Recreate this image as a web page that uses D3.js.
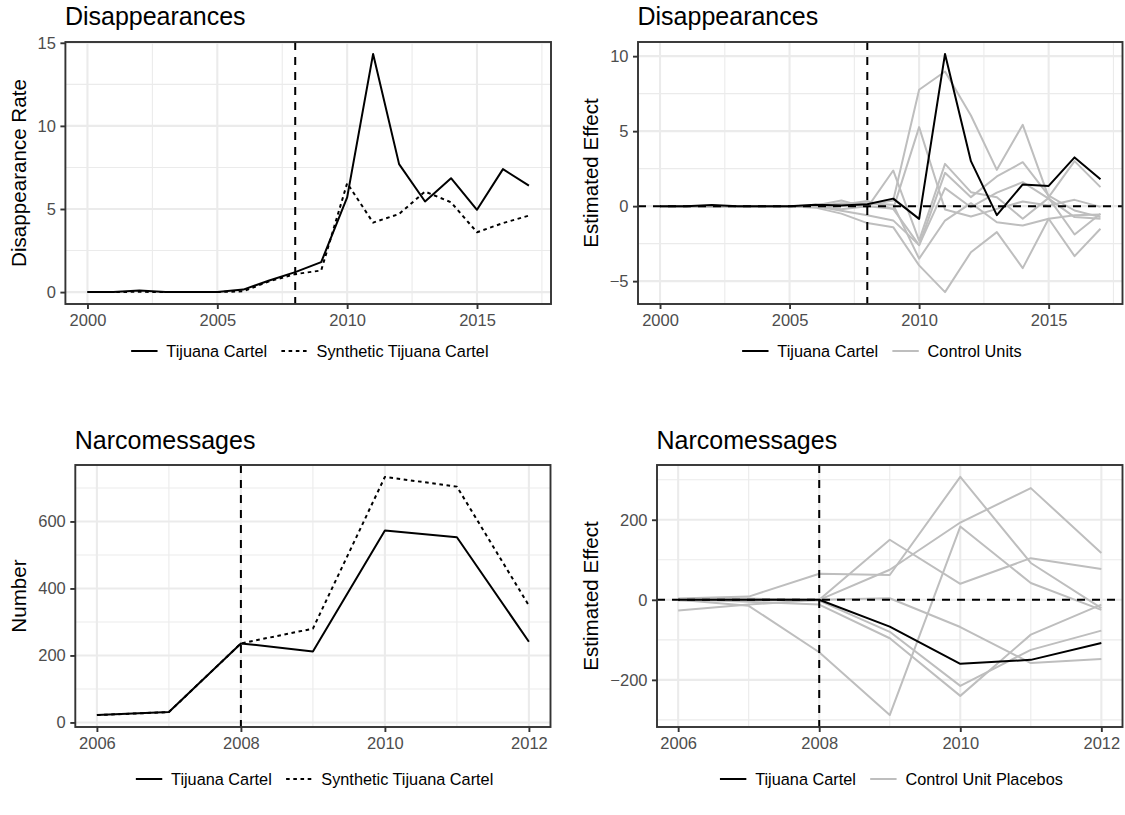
<!DOCTYPE html>
<html>
<head>
<meta charset="utf-8">
<script src="https://cdn.jsdelivr.net/npm/d3@7"></script>
<style>
  body { margin: 0; background: #fff; }
  svg { display: block; font-family: "Liberation Sans", Arial, Helvetica, sans-serif; }
</style>
</head>
<body>
<svg id="chart" width="1125" height="815"></svg>
<script>
// ---- Disappearances (yearly, 2000-2017) ----
const disYears = [2000, 2001, 2002, 2003, 2004, 2005, 2006, 2007, 2008, 2009, 2010, 2011, 2012, 2013, 2014, 2015, 2016, 2017];
const disTijuana = [0, 0, 0.1, 0, 0, 0, 0.15, 0.7, 1.2, 1.8, 5.7, 14.33, 7.7, 5.45, 6.85, 4.95, 7.4, 6.4];
const disSynthetic = [0, 0, 0.02, 0, 0, 0, 0.05, 0.65, 1.08, 1.3, 6.55, 4.18, 4.7, 6.05, 5.4, 3.6, 4.15, 4.6];
const disEffect = [0, 0, 0.08, 0, 0, 0, 0.1, 0.05, 0.12, 0.5, -0.85, 10.15, 3.0, -0.6, 1.45, 1.35, 3.25, 1.8];
const disControl1 = [0, 0, 0, 0, 0, 0, 0, 0.2, 0.1, 0.38, 7.76, 8.98, 6.04, 2.42, 5.42, 0.6, 3.0, 1.27];
const disControl2 = [0, 0, 0, 0, 0, 0, 0, 0.1, 0.35, -0.2, 5.27, -0.22, -0.69, -0.18, 0.31, 0.05, 0.42, -0.05];
const disControl3 = [0, 0, 0, 0, 0, 0, 0.05, 0.38, -0.1, 2.38, -2.3, 2.82, 0.93, 0.6, -0.84, 0.55, -1.89, -0.51];
const disControl4 = [0, 0, 0, 0, 0, 0, 0, -0.2, 0, -0.18, -2.6, 2.22, 0.6, 1.98, 2.93, 0.7, -0.29, -0.73];
const disControl5 = [0, 0, 0, 0, 0, 0, 0, -0.3, -0.6, -0.95, -2.6, 1.2, -0.07, 0.9, 1.6, 0.5, -0.73, -0.84];
const disControl6 = [0, 0, 0, 0, 0, 0, -0.1, -0.5, -1.13, -1.4, -3.95, -5.73, -3.07, -1.73, -4.13, -0.84, -3.33, -1.51];
const disControl7 = [0, 0, 0, 0, 0, 0, 0, 0.1, 0.2, 0.1, -3.5, -0.96, 0.2, -1.07, -1.29, -0.84, -0.6, -0.56];
const disXTicks = [2000, 2005, 2010, 2015];
const disXMinor = [2002.5, 2007.5, 2012.5, 2017.5];
const disRateTicks = [0, 5, 10, 15];
const disRateMinor = [2.5, 7.5, 12.5];
const disEffectTicks = [-5, 0, 5, 10];
const disEffectMinor = [-2.5, 2.5, 7.5];

// ---- Narcomessages (yearly, 2006-2012) ----
const narYears = [2006, 2007, 2008, 2009, 2010, 2011, 2012];
const narTijuana = [22, 31, 236, 212, 573, 553, 241];
const narSynthetic = [22, 31, 236, 280, 733, 704, 349];
const narEffect = [0, 0, 0, -67, -160, -150, -108];
const narPlacebo1 = [3, 8, 65, 62, 307, 92, -21];
const narPlacebo2 = [0, 2, 0, 75, 193, 279, 117];
const narPlacebo3 = [-2, 0, 0, 150, 40, 104, 77];
const narPlacebo4 = [0, -15, -131, -288, 183, 42, -25];
const narPlacebo5 = [-27, -12, 0, 4, -68, -158, -148];
const narPlacebo6 = [2, -5, -12, -96, -240, -87, -12];
const narPlacebo7 = [0, 3, -2, -80, -215, -125, -77];
const narXTicks = [2006, 2008, 2010, 2012];
const narXMinor = [2007, 2009, 2011];
const narNumberTicks = [0, 200, 400, 600];
const narNumberMinor = [100, 300, 500, 700];
const narEffectTicks = [-200, 0, 200];
const narEffectMinor = [-300, -100, 100, 300];

const treatmentYear = 2008;

// ---- styling ----
const TITLE_SIZE = 25, AXIS_TITLE_SIZE = 20.6, TICK_SIZE = 16.5, LEGEND_SIZE = 16.3;
const GRID = "#EBEBEB", BORDER = "#333333", TICK_TEXT = "#4D4D4D", GREY = "#BEBEBE";
const DASH_LONG = "8,7", DASH_DOT = "3.6,3.6";

const svg = d3.select("#chart");
const fmt = v => (v < 0 ? "\u2212" + Math.abs(v) : String(v));
const expand = (ext, m = 0.05) => [ext[0] - (ext[1] - ext[0]) * m, ext[1] + (ext[1] - ext[0]) * m];

function drawPanel(cfg) {
  const g = svg.append("g");
  const allY = cfg.series.flatMap(s => s.values);
  const x = d3.scaleLinear().domain(expand(d3.extent(cfg.years))).range([cfg.left, cfg.right]);
  const y = d3.scaleLinear().domain(expand(d3.extent(allY))).range([cfg.bottom, cfg.top]);

  // minor grid
  g.append("g").selectAll("line").data(cfg.xMinor).join("line")
    .attr("x1", d => x(d)).attr("x2", d => x(d)).attr("y1", cfg.top).attr("y2", cfg.bottom)
    .attr("stroke", GRID).attr("stroke-width", 1.1);
  g.append("g").selectAll("line").data(cfg.yMinor.filter(v => y(v) >= cfg.top && y(v) <= cfg.bottom)).join("line")
    .attr("y1", d => y(d)).attr("y2", d => y(d)).attr("x1", cfg.left).attr("x2", cfg.right)
    .attr("stroke", GRID).attr("stroke-width", 1.1);
  // major grid
  g.append("g").selectAll("line").data(cfg.xTicks).join("line")
    .attr("x1", d => x(d)).attr("x2", d => x(d)).attr("y1", cfg.top).attr("y2", cfg.bottom)
    .attr("stroke", GRID).attr("stroke-width", 2.1);
  g.append("g").selectAll("line").data(cfg.yTicks).join("line")
    .attr("y1", d => y(d)).attr("y2", d => y(d)).attr("x1", cfg.left).attr("x2", cfg.right)
    .attr("stroke", GRID).attr("stroke-width", 2.1);

  // series
  const line = d3.line().x((d, i) => x(cfg.years[i])).y(d => y(d));
  cfg.series.forEach(s => {
    g.append("path").datum(s.values)
      .attr("d", line)
      .attr("fill", "none")
      .attr("stroke", s.color)
      .attr("stroke-width", 2)
      .attr("stroke-linejoin", "round")
      .attr("stroke-dasharray", s.dash || null);
  });

  // reference lines
  g.append("line")
    .attr("x1", x(treatmentYear)).attr("x2", x(treatmentYear))
    .attr("y1", cfg.top).attr("y2", cfg.bottom)
    .attr("stroke", "#000").attr("stroke-width", 2).attr("stroke-dasharray", DASH_LONG);
  if (cfg.zeroLine) {
    g.append("line")
      .attr("x1", cfg.left).attr("x2", cfg.right)
      .attr("y1", y(0)).attr("y2", y(0))
      .attr("stroke", "#000").attr("stroke-width", 2).attr("stroke-dasharray", DASH_LONG);
  }

  // border
  g.append("rect")
    .attr("x", cfg.left).attr("y", cfg.top)
    .attr("width", cfg.right - cfg.left).attr("height", cfg.bottom - cfg.top)
    .attr("fill", "none").attr("stroke", BORDER).attr("stroke-width", 1.9);

  // axes
  const xAxis = g.append("g").attr("transform", `translate(0,${cfg.bottom})`)
    .call(d3.axisBottom(x).tickValues(cfg.xTicks).tickFormat(d3.format("d")).tickSize(5).tickPadding(5.5));
  const yAxis = g.append("g").attr("transform", `translate(${cfg.left},0)`)
    .call(d3.axisLeft(y).tickValues(cfg.yTicks).tickFormat(fmt).tickSize(5).tickPadding(4.5));
  [xAxis, yAxis].forEach(a => {
    a.select(".domain").remove();
    a.selectAll(".tick line").attr("stroke", BORDER).attr("stroke-width", 1.9);
    a.selectAll(".tick text").attr("fill", TICK_TEXT)
      .style("font-size", TICK_SIZE + "px").style("font-family", "Liberation Sans, Arial, sans-serif");
  });

  // titles
  g.append("text").attr("x", cfg.left - 0.5).attr("y", cfg.titleY)
    .style("font-size", TITLE_SIZE + "px").attr("fill", "#000").text(cfg.title);
  g.append("text")
    .attr("transform", `translate(${cfg.yTitleX},${(cfg.top + cfg.bottom) / 2}) rotate(-90)`)
    .attr("text-anchor", "middle")
    .style("font-size", AXIS_TITLE_SIZE + "px").attr("fill", "#000").text(cfg.yTitle);

  // legend (centred under the panel)
  const lg = g.append("g");
  const keyW = 33, lineInset = 3.3, textGap = 5.5, itemGap = 11;
  let cx = 0;
  cfg.legend.forEach(item => {
    lg.append("line")
      .attr("x1", cx + lineInset).attr("x2", cx + keyW - lineInset)
      .attr("y1", 0).attr("y2", 0)
      .attr("stroke", item.color).attr("stroke-width", 2)
      .attr("stroke-dasharray", item.dash || null);
    const t = lg.append("text").attr("x", cx + keyW + textGap).attr("y", 0).attr("dy", "0.35em")
      .style("font-size", LEGEND_SIZE + "px").attr("fill", "#000").text(item.label);
    cx += keyW + textGap + t.node().getComputedTextLength() + itemGap;
  });
  const total = cx - itemGap;
  lg.attr("transform", `translate(${(cfg.left + cfg.right) / 2 - total / 2},${cfg.legendY})`);
}

const topY = 42, topB = 304, botY = 465, botB = 727;

drawPanel({
  title: "Disappearances", yTitle: "Disappearance Rate",
  left: 65.4, right: 551, top: topY, bottom: topB, titleY: 25, yTitleX: 25.5, legendY: 351,
  years: disYears, xTicks: disXTicks, xMinor: disXMinor, yTicks: disRateTicks, yMinor: disRateMinor,
  series: [
    { values: disTijuana, color: "#000" },
    { values: disSynthetic, color: "#000", dash: DASH_DOT }
  ],
  legend: [
    { label: "Tijuana Cartel", color: "#000" },
    { label: "Synthetic Tijuana Cartel", color: "#000", dash: DASH_DOT }
  ]
});

drawPanel({
  title: "Disappearances", yTitle: "Estimated Effect",
  left: 638, right: 1122.5, top: topY, bottom: topB, titleY: 25, yTitleX: 598, legendY: 351, zeroLine: true,
  years: disYears, xTicks: disXTicks, xMinor: disXMinor, yTicks: disEffectTicks, yMinor: disEffectMinor,
  series: [
    { values: disControl1, color: GREY },
    { values: disControl2, color: GREY },
    { values: disControl3, color: GREY },
    { values: disControl4, color: GREY },
    { values: disControl5, color: GREY },
    { values: disControl6, color: GREY },
    { values: disControl7, color: GREY },
    { values: disEffect, color: "#000" }
  ],
  legend: [
    { label: "Tijuana Cartel", color: "#000" },
    { label: "Control Units", color: GREY }
  ]
});

drawPanel({
  title: "Narcomessages", yTitle: "Number",
  left: 75.3, right: 550.5, top: botY, bottom: botB, titleY: 449, yTitleX: 25.5, legendY: 779,
  years: narYears, xTicks: narXTicks, xMinor: narXMinor, yTicks: narNumberTicks, yMinor: narNumberMinor,
  series: [
    { values: narTijuana, color: "#000" },
    { values: narSynthetic, color: "#000", dash: DASH_DOT }
  ],
  legend: [
    { label: "Tijuana Cartel", color: "#000" },
    { label: "Synthetic Tijuana Cartel", color: "#000", dash: DASH_DOT }
  ]
});

drawPanel({
  title: "Narcomessages", yTitle: "Estimated Effect",
  left: 657, right: 1122.5, top: botY, bottom: botB, titleY: 449, yTitleX: 598, legendY: 779, zeroLine: true,
  years: narYears, xTicks: narXTicks, xMinor: narXMinor, yTicks: narEffectTicks, yMinor: narEffectMinor,
  series: [
    { values: narPlacebo1, color: GREY },
    { values: narPlacebo2, color: GREY },
    { values: narPlacebo3, color: GREY },
    { values: narPlacebo4, color: GREY },
    { values: narPlacebo5, color: GREY },
    { values: narPlacebo6, color: GREY },
    { values: narPlacebo7, color: GREY },
    { values: narEffect, color: "#000" }
  ],
  legend: [
    { label: "Tijuana Cartel", color: "#000" },
    { label: "Control Unit Placebos", color: GREY }
  ]
});
</script>
</body>
</html>
